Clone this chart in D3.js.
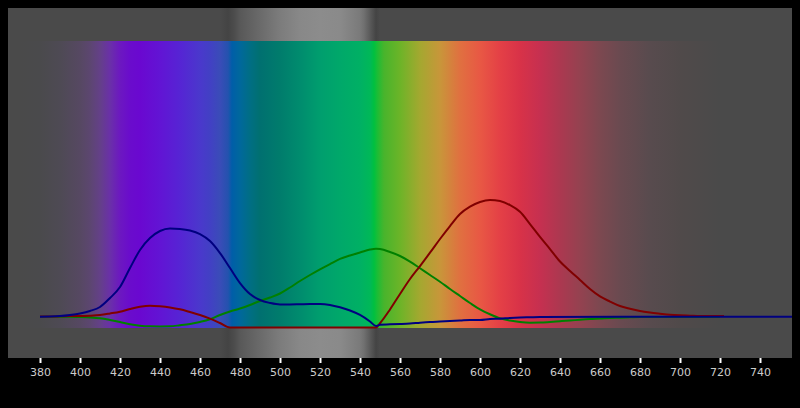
<!DOCTYPE html>
<html><head><meta charset="utf-8">
<script src="https://cdn.jsdelivr.net/npm/d3@7"></script>
<style>html,body{margin:0;padding:0;background:#000;}svg{display:block;}</style>
</head><body><svg id="c" width="800" height="408"></svg>
<script>
// ---- data ----
const tickValues = d3.range(380, 741, 20);
const blueWl = [380,385,390,395,400,405,410,415,420,425,430,435,440,445,450,455,460,465,470,475,480,485,490,495,500,505,510,515,520,525,530,535,540,545,548,550,555,560,565,570,575,580,585,590,595,600,605,610,615,620,625,630,700,790];
const blueVal = [0.3,0.4,0.8,1.7,3.0,5.1,8.5,16.1,25.4,41.5,56.8,66.9,72.9,75.0,74.6,73.3,70.3,64.4,54.2,41.5,28.8,19.5,14.4,11.9,10.6,10.6,10.8,11.0,11.0,10.2,8.2,5.5,1.7,-3.8,-7.6,-6.5,-6.2,-5.9,-5.5,-4.8,-4.2,-3.8,-3.4,-3.0,-2.5,-2.5,-1.7,-1.4,-0.8,-0.4,-0.2,0.0,0.25,0.25];
const greenWl = [380,385,390,395,400,405,410,415,420,425,430,435,440,445,450,455,460,465,470,475,480,485,490,495,500,505,510,515,520,525,530,535,540,545,548,550,555,560,565,570,575,580,585,590,595,600,605,610,615,620,625,630,635,640,645,650,655,660,665,670,675,680,720];
const greenVal = [0.3,0.3,0.3,0.3,0.0,-0.4,-1.1,-2.5,-4.2,-6.2,-7.4,-7.9,-8.0,-7.9,-7.0,-5.9,-4.2,-1.9,1.7,4.7,7.2,10.2,13.6,16.5,19.9,25.0,30.5,35.6,40.4,44.9,49.2,52.1,54.7,57.2,57.9,57.6,55.1,51.7,47.0,41.3,35.6,29.9,23.7,17.8,11.9,6.4,2.3,-1.1,-3.0,-4.2,-4.8,-4.7,-4.2,-3.6,-3.0,-2.3,-1.7,-1.3,-0.8,-0.6,-0.3,0.0,0.0];
const redWl = [380,385,390,395,400,405,410,415,420,425,430,435,440,445,450,455,460,465,470,475,480,548,550,555,560,565,570,575,580,585,590,595,600,605,610,615,620,625,630,635,640,645,650,655,660,665,670,675,680,685,690,695,700,705,710,715,722];
const redVal = [0.4,0.4,0.6,0.8,0.8,1.1,1.7,3.0,4.5,6.8,8.7,9.6,9.1,8.1,6.5,4.2,1.7,-1.4,-5.1,-8.9,-9.1,-9.1,-5.3,6.4,19.5,32.2,43.2,54.5,66.1,77.1,87.3,93.5,97.5,99.2,98.3,94.9,89.2,78.8,67.8,57.6,47.0,39.0,31.4,23.7,17.4,13.1,9.3,7.0,5.1,3.8,2.8,1.9,1.4,1.1,0.8,0.8,0.8];
// spectrum colour stops (wavelength, colour)
const specWl = [350,370,380,390,400,405,410,415,420,425,430,440,450,460,465,470,474,476,480,485,490,500,510,520,530,540,545,547,549,552,560,570,580,590,600,610,620,630,640,650,660,670,685,700,720,760];
const specCol = ["#4a4a4a","#4a4a4a","#4a4a4c","#4e4a54","#564862","#5c4670","#644088","#6a30a8","#6c18c0","#6a0ccc","#6a08d0","#6214d4","#5624d4","#4a38cc","#4240c4","#3a4cb8","#2452ae","#005ea8","#00689c","#006e84","#007070","#007c6c","#008c6e","#009e6e","#00a86a","#00b064","#00b858","#00c040","#20bc34","#48b42c","#6cb428","#a4a830","#c8963a","#e07040","#e85844","#e44046","#d83248","#c63050","#ac3850","#944250","#7c4850","#6a4a50","#584b4e","#504a4a","#4a4a4a","#4a4a4a"];
// neutral grey patch stops
const greyX = [470,474,477,480,490,500,510,520,530,540,542,545,548,550,560];
const greyCol = ["#4a4a4a","#444444","#4c4c4c","#585858","#6a6a6a","#7c7c7c","#888888","#8c8c8c","#8a8a8a","#7a7a7a","#707070","#5a5a5a","#444444","#4a4a4a","#4a4a4a"];

// ---- chart ----
const svg = d3.select("#c");
const x = d3.scaleLinear().domain([380, 740]).range([40, 760]);
const y = d3.scaleLinear().domain([0, 100]).range([317, 199]);
const plot = {l: 8, r: 792, t: 8, b: 358};
const bandTop = 41, bandBot = 328;

const defs = svg.append("defs");
const sg = defs.append("linearGradient").attr("id","spec").attr("gradientUnits","userSpaceOnUse")
  .attr("x1", plot.l).attr("x2", plot.r).attr("y1",0).attr("y2",0);
specWl.forEach((w,i)=>sg.append("stop").attr("offset",(x(w)-plot.l)/(plot.r-plot.l)).attr("stop-color",specCol[i]));
const gg = defs.append("linearGradient").attr("id","grey").attr("gradientUnits","userSpaceOnUse")
  .attr("x1", plot.l).attr("x2", plot.r).attr("y1",0).attr("y2",0);
greyX.forEach((w,i)=>gg.append("stop").attr("offset",(x(w)-plot.l)/(plot.r-plot.l)).attr("stop-color",greyCol[i]));
defs.append("clipPath").attr("id","clip").append("rect")
  .attr("x",plot.l).attr("y",plot.t).attr("width",plot.r-plot.l).attr("height",plot.b-plot.t);

svg.append("rect").attr("x",0).attr("y",0).attr("width",800).attr("height",408).attr("fill","#000");
svg.append("rect").attr("x",plot.l).attr("y",plot.t).attr("width",plot.r-plot.l).attr("height",bandTop-plot.t).attr("fill","url(#grey)");
svg.append("rect").attr("x",plot.l).attr("y",bandBot).attr("width",plot.r-plot.l).attr("height",plot.b-bandBot).attr("fill","url(#grey)");
svg.append("rect").attr("x",plot.l).attr("y",bandTop).attr("width",plot.r-plot.l).attr("height",bandBot-bandTop).attr("fill","url(#spec)");

const yMin = y.invert(bandBot - 0.5);
const line = d3.line().x(d=>x(d[0])).y(d=>y(Math.max(d[1], yMin))).curve(d3.curveMonotoneX);
const g = svg.append("g").attr("clip-path","url(#clip)");
const series = [
  {wl: greenWl, v: greenVal, c: "#008000"},
  {wl: redWl, v: redVal, c: "#800000"},
  {wl: blueWl, v: blueVal, c: "#000080"}
];
series.forEach(s=>{
  g.append("path").datum(s.wl.map((w,i)=>[w,s.v[i]]))
    .attr("d", line).attr("fill","none").attr("stroke", s.c).attr("stroke-width", 2)
    .attr("stroke-linejoin","round");
});

const ax = svg.append("g").attr("transform",`translate(0,${plot.b})`)
  .call(d3.axisBottom(x).tickValues(tickValues).tickSize(5).tickPadding(5).tickFormat(d3.format("d")));
ax.select(".domain").remove();
ax.selectAll(".tick line").attr("stroke","#fff").attr("stroke-width",2);
ax.selectAll(".tick text").attr("fill","#cccccc")
  .attr("font-family","'DejaVu Sans', sans-serif").attr("font-size","11px");
</script></body></html>
